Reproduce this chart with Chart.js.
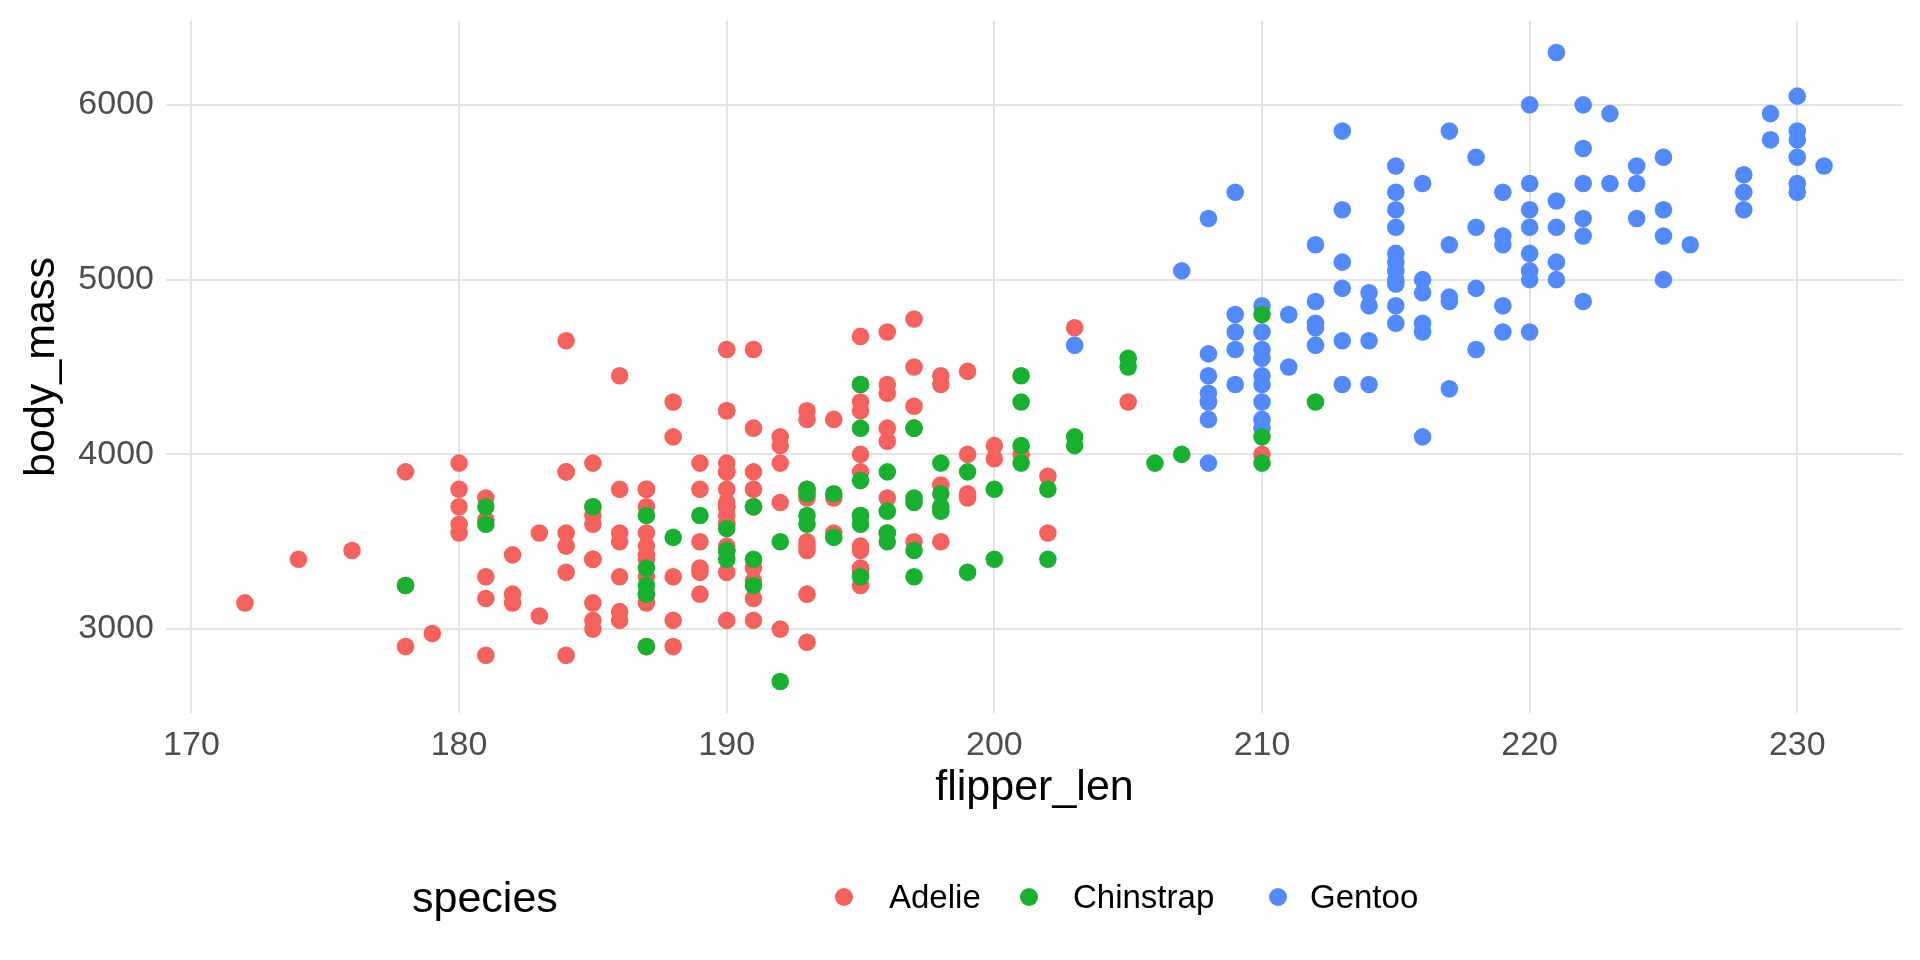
<!DOCTYPE html>
<html>
<head>
<meta charset="utf-8">
<title>penguins</title>
<script src="https://cdn.jsdelivr.net/npm/chart.js@4.4.1/dist/chart.umd.min.js"></script>
<style>
  html, body { margin: 0; padding: 0; background: #fff; }
  #wrap { position: relative; width: 1920px; height: 960px; }
  #legend {
    position: absolute; left: 0; top: 871px; width: 1920px; height: 52px;
    font-family: "Liberation Sans", Arial, sans-serif; color: #000;
  }
  #legend span { position: absolute; top: 50%; transform: translateY(-50%); white-space: nowrap; }
  #legend .ttl { font-size: 43px; }
  #legend .dot { width: 18px; height: 18px; border-radius: 50%; margin-left: -9px; }
  #legend .lab { font-size: 33px; }
</style>
</head>
<body>
<div id="wrap">
  <canvas id="chart" width="1920" height="960"></canvas>
  <div id="legend">
    <span class="ttl" style="left:412px">species</span>
    <span class="dot" style="left:844px"></span><span class="lab" style="left:889px"></span>
    <span class="dot" style="left:1029px"></span><span class="lab" style="left:1073px"></span>
    <span class="dot" style="left:1278px"></span><span class="lab" style="left:1310px"></span>
  </div>
</div>
<script>
// flipper length (mm), body mass (g)
const adelie = [
  [181,3750],[186,3800],[195,3250],[193,3450],[190,3650],[181,3625],[195,4675],[193,3475],
  [190,4250],[186,3300],[180,3700],[182,3200],[191,3800],[198,4400],[185,3700],[195,3450],
  [197,4500],[184,3325],[194,4200],[174,3400],[180,3600],[189,3800],[185,3950],[180,3800],
  [187,3800],[183,3550],[187,3200],[172,3150],[180,3950],[178,3250],[178,3900],[188,3300],
  [184,3900],[195,3325],[196,4150],[190,3950],[180,3550],[181,3300],[184,4650],[182,3150],
  [195,3900],[186,3100],[196,4400],[185,3000],[190,4600],[182,3425],[179,2975],[190,3450],
  [191,4150],[186,3500],[188,4300],[190,3450],[200,4050],[187,2900],[191,3700],[186,3550],
  [193,3800],[181,2850],[194,3750],[185,3150],[195,4400],[185,3600],[192,4050],[184,2850],
  [192,3950],[195,3350],[188,4100],[190,3050],[198,4450],[190,3600],[190,3900],[196,3550],
  [197,4150],[190,3700],[195,4250],[191,3700],[184,3900],[187,3550],[195,4000],[189,3200],
  [196,4700],[187,3800],[193,4200],[191,3350],[194,3550],[190,3800],[189,3500],[189,3950],
  [190,3600],[202,3550],[205,4300],[185,3400],[186,4450],[187,3300],[208,4300],[190,3700],
  [196,4350],[178,2900],[192,4100],[192,3725],[203,4725],[183,3075],[190,4250],[193,2925],
  [184,3550],[199,3750],[190,3900],[181,3175],[197,4775],[198,3825],[191,4600],[193,3200],
  [197,4275],[191,3900],[196,4075],[188,2900],[199,3775],[189,3350],[189,3325],[187,3150],
  [198,3500],[176,3450],[202,3875],[186,3050],[199,4000],[191,3275],[195,4300],[191,3050],
  [210,4000],[190,3325],[197,3500],[193,3500],[199,4475],[187,3425],[190,3900],[191,3175],
  [200,3975],[185,3400],[193,4250],[187,3400],[190,3475],[185,3050],[190,3725],[195,3650],
  [184,3475],[195,3475],[190,3450],[196,3750],[190,3700],[185,3650],[187,3700],[187,3475],
  [188,3050],[192,3000],[193,3750],[201,4000]
];

const gentoo = [
  [203,4625],[207,5050],
  [208,5350],[208,4575],[208,4450],[208,4350],[208,4300],[208,4200],[208,3950],
  [209,5500],[209,4800],[209,4700],[209,4600],[209,4400],
  [210,4850],[210,4700],[210,4600],[210,4550],[210,4450],[210,4400],[210,4300],[210,4200],[210,4150],
  [211,4800],[211,4500],
  [212,5200],[212,4875],[212,4750],[212,4725],[212,4625],
  [213,5850],[213,5400],[213,5100],[213,4950],[213,4650],[213,4400],
  [214,4925],[214,4850],[214,4650],[214,4400],
  [215,5650],[215,5500],[215,5400],[215,5300],[215,5150],[215,5100],[215,5050],[215,5000],
  [215,4975],[215,4850],[215,4750],
  [216,5550],[216,5000],[216,4925],[216,4750],[216,4700],[216,4100],
  [217,5850],[217,5200],[217,4900],[217,4875],[217,4375],
  [218,5700],[218,5300],[218,4950],[218,4600],
  [219,5500],[219,5250],[219,5200],[219,4850],[219,4700],
  [220,6000],[220,5550],[220,5400],[220,5300],[220,5150],[220,5050],[220,5000],[220,4700],
  [221,6300],[221,5450],[221,5300],[221,5100],[221,5000],
  [222,6000],[222,5750],[222,5550],[222,5350],[222,5250],[222,4875],
  [223,5950],[223,5550],
  [224,5650],[224,5550],[224,5350],
  [225,5700],[225,5400],[225,5250],[225,5000],
  [226,5200],
  [228,5600],[228,5500],[228,5400],
  [229,5950],[229,5800],
  [230,6050],[230,5850],[230,5800],[230,5700],[230,5550],[230,5500],
  [231,5650]
];

const chinstrap = [
  [178,3250],[181,3700],[181,3600],[185,3700],
  [187,3650],[187,3350],[187,3250],[187,3200],[187,2900],
  [188,3525],[189,3650],[190,3575],[190,3450],[190,3400],
  [191,3700],[191,3400],[191,3250],[192,3500],[192,2700],
  [193,3800],[193,3775],[193,3650],[193,3600],[194,3775],[194,3525],
  [195,4400],[195,4150],[195,3850],[195,3650],[195,3600],[195,3300],
  [196,3900],[196,3675],[196,3550],[196,3500],
  [197,4150],[197,3750],[197,3725],[197,3450],[197,3300],
  [198,3950],[198,3775],[198,3700],[198,3675],
  [199,3900],[199,3325],[200,3800],[200,3400],
  [201,4450],[201,4300],[201,4050],[201,3950],[202,3800],[202,3400],
  [203,4100],[203,4050],[205,4550],[205,4500],[206,3950],[207,4000],
  [210,4800],[210,4100],[210,3950],[212,4300]
];

const species = ['Adelie', 'Chinstrap', 'Gentoo'];
const colors = ['#F5615C', '#18B12F', '#528AFE'];
const xTicks = [170, 180, 190, 200, 210, 220, 230];
const yTicks = [3000, 4000, 5000, 6000];

const FONT = '"Liberation Sans", Arial, sans-serif';
Chart.defaults.font.family = FONT;

function toPoints(rows) {
  return rows.map(r => ({ x: r[0], y: r[1] }));
}

// ggplot draws rows in file order: Adelie, then Gentoo, then Chinstrap on top
const datasets = [
  { label: 'Adelie', data: toPoints(adelie), backgroundColor: colors[0], order: 3 },
  { label: 'Gentoo', data: toPoints(gentoo), backgroundColor: colors[2], order: 2 },
  { label: 'Chinstrap', data: toPoints(chinstrap), backgroundColor: colors[1], order: 1 }
];
datasets.forEach(d => {
  d.pointRadius = 8.8;
  d.pointHoverRadius = 8.8;
  d.pointBorderWidth = 0;
});

const gridColor = '#e4e4e4';
// invisible tick marks give the label gap without padding the chart area
const grid = { color: gridColor, lineWidth: 2, drawTicks: true, tickLength: 12, tickColor: 'rgba(0,0,0,0)' };

new Chart(document.getElementById('chart'), {
  type: 'scatter',
  data: { datasets: datasets },
  options: {
    responsive: false,
    devicePixelRatio: 1,
    animation: false,
    layout: { padding: { top: 21, right: 17, bottom: 117, left: 0 } },
    plugins: { legend: { display: false }, tooltip: { enabled: false } },
    scales: {
      x: {
        type: 'linear',
        min: 169.05,
        max: 233.95,
        afterBuildTicks: s => { s.ticks = xTicks.map(v => ({ value: v })); },
        afterFit: s => { s.height = 130; },
        grid: grid,
        border: { display: false },
        ticks: { color: '#4d4d4d', font: { size: 34 }, padding: 0, maxRotation: 0, callback: v => String(v) },
        title: { display: true, text: 'flipper_len', color: '#000', font: { size: 43 }, padding: { top: 0, bottom: 29 } }
      },
      y: {
        type: 'linear',
        min: 2520,
        max: 6480,
        afterBuildTicks: s => { s.ticks = yTicks.map(v => ({ value: v })); },
        afterFit: s => { s.width = 166; },
        grid: grid,
        border: { display: false },
        ticks: { color: '#4d4d4d', font: { size: 34 }, padding: 0, callback: v => String(v) },
        title: { display: true, text: 'body_mass', color: '#000', font: { size: 43 }, padding: { top: 16, bottom: 0 } }
      }
    }
  }
});

// legend labels
const labs = document.querySelectorAll('#legend .lab');
const dots = document.querySelectorAll('#legend .dot');
species.forEach((name, i) => {
  labs[i].textContent = name;
  dots[i].style.background = colors[i];
});
</script>
</body>
</html>
